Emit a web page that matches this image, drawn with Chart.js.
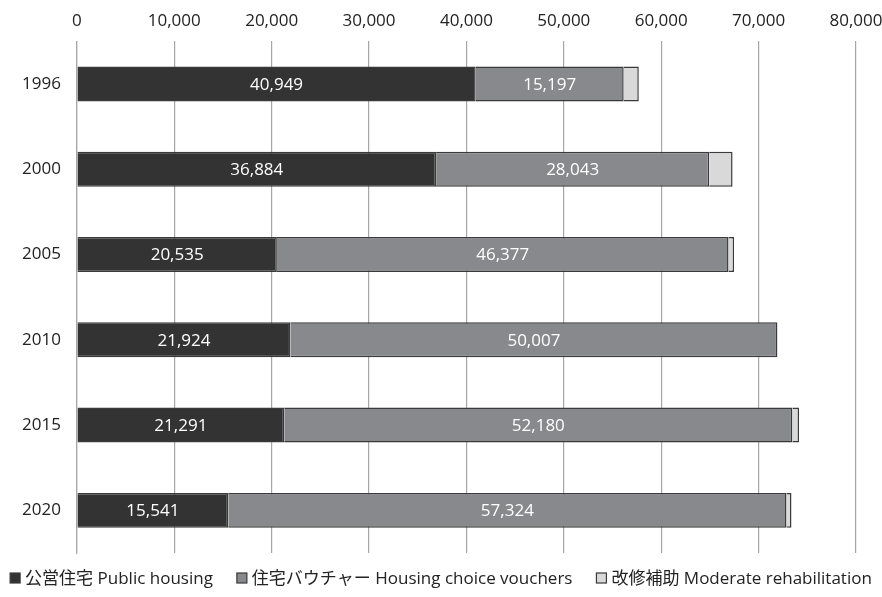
<!DOCTYPE html>
<html>
<head>
<meta charset="utf-8">
<script src="https://cdn.jsdelivr.net/npm/chart.js@4/dist/chart.umd.min.js"></script>
<style>
  html, body { margin: 0; padding: 0; background: #fff; }
  #wrap { width: 882px; height: 597px; }
</style>
</head>
<body>
<div id="wrap"><canvas id="housingChart"></canvas></div>
<script>
const years = ["1996", "2000", "2005", "2010", "2015", "2020"];
const publicHousing = [40949, 36884, 20535, 21924, 21291, 15541];
const vouchers = [15197, 28043, 46377, 50007, 52180, 57324];
const moderateRehab = [1550, 2400, 570, 0, 680, 510];
const xTicks = [0, 10000, 20000, 30000, 40000, 50000, 60000, 70000, 80000];

const fontFamily = "'Open Sans', 'Noto Sans CJK JP', sans-serif";

// white value labels in the two big segments
const segmentLabels = {
  id: "segmentLabels",
  afterDatasetsDraw(chart) {
    const ctx = chart.ctx;
    ctx.save();
    ctx.fillStyle = "#ffffff";
    ctx.font = "17px " + fontFamily;
    ctx.textAlign = "center";
    ctx.textBaseline = "middle";
    [0, 1].forEach((di) => {
      const meta = chart.getDatasetMeta(di);
      meta.data.forEach((bar, i) => {
        const v = chart.data.datasets[di].data[i];
        const x = (bar.x + bar.base) / 2;
        ctx.fillText(v.toLocaleString("en-US"), x, bar.y + 1);
      });
    });
    ctx.restore();
  },
};

// legend row under the plot, spaced like the original
const bottomLegend = {
  id: "bottomLegend",
  afterDraw(chart) {
    const ctx = chart.ctx;
    const sets = chart.data.datasets;
    const box = 10, gap = 5, itemGap = 24;
    const y = 578;
    ctx.save();
    ctx.font = "17px " + fontFamily;
    ctx.textBaseline = "middle";
    const widths = sets.map((ds) => box + gap + ctx.measureText(ds.label).width);
    const total = widths.reduce((a, b) => a + b, 0) + itemGap * (sets.length - 1);
    let x = (chart.width - total) / 2;
    sets.forEach((ds, i) => {
      ctx.fillStyle = ds.backgroundColor;
      ctx.fillRect(x, y - box / 2, box, box);
      ctx.strokeStyle = "#3a3a3a";
      ctx.lineWidth = 1.2;
      ctx.strokeRect(x, y - box / 2, box, box);
      ctx.fillStyle = "#222";
      ctx.fillText(ds.label, x + box + gap, y + 1);
      x += widths[i] + itemGap;
    });
    ctx.restore();
  },
};

document.addEventListener("DOMContentLoaded", function () {
  const ctx = document.getElementById("housingChart").getContext("2d");
  new Chart(ctx, {
    type: "bar",
    data: {
      labels: years,
      datasets: [
        {
          label: "公営住宅 Public housing",
          data: publicHousing,
          backgroundColor: "#333333",
          borderColor: "#3a3a3a",
          borderWidth: 1.5,
        },
        {
          label: "住宅バウチャー Housing choice vouchers",
          data: vouchers,
          backgroundColor: "#88898d",
          borderColor: "#3a3a3a",
          borderWidth: 1.5,
        },
        {
          label: "改修補助 Moderate rehabilitation",
          data: moderateRehab,
          backgroundColor: "#d9d9d9",
          borderColor: "#3a3a3a",
          borderWidth: 1.5,
        },
      ],
    },
    options: {
      indexAxis: "y",
      responsive: true,
      maintainAspectRatio: false,
      animation: false,
      barPercentage: 0.82,
      categoryPercentage: 0.5,
      layout: { padding: { left: 6, right: 0, top: 1, bottom: 44 } },
      scales: {
        x: {
          position: "top",
          stacked: true,
          min: 0,
          max: 80000,
          afterBuildTicks(axis) {
            axis.ticks = xTicks.map((v) => ({ value: v }));
          },
          afterFit(axis) {
            axis.paddingRight = 26;
            axis.paddingLeft = 0;
          },
          grid: { color: "#a6a6a6", lineWidth: 1.2, drawTicks: false },
          border: { display: false },
          ticks: {
            padding: 10,
            color: "#222",
            font: { family: fontFamily, size: 17 },
            callback: (v) => v.toLocaleString("en-US"),
          },
        },
        y: {
          stacked: true,
          grid: { display: false, drawTicks: false },
          border: { display: true, color: "#a6a6a6", width: 1.2 },
          ticks: {
            padding: 16,
            color: "#222",
            font: { family: fontFamily, size: 17 },
          },
        },
      },
      plugins: {
        legend: { display: false },
        tooltip: { enabled: false },
      },
    },
    plugins: [segmentLabels, bottomLegend],
  });
});
</script>
</body>
</html>
